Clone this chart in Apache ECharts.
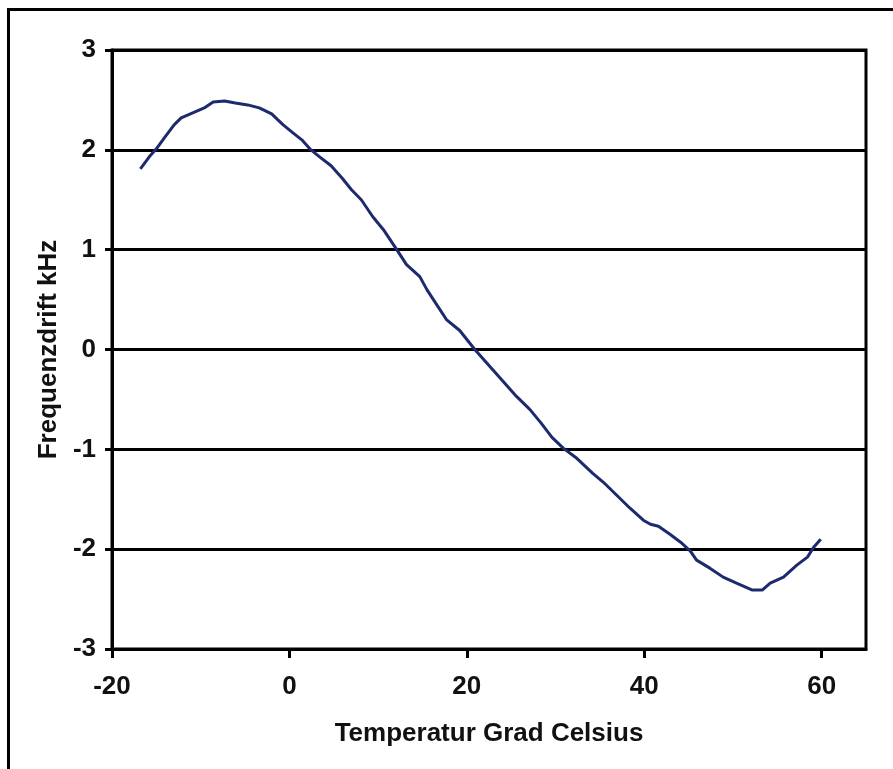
<!DOCTYPE html>
<html>
<head>
<meta charset="utf-8">
<script src="https://cdn.jsdelivr.net/npm/echarts@6/dist/echarts.min.js"></script>
<style>
html,body{margin:0;padding:0;background:#fff;}
#chart{width:893px;height:769px;}
</style>
</head>
<body>
<div id="chart"></div>
<script>
const temperature = [-16.8, -15.8, -15.0, -14.1, -13.0, -12.2, -10.9, -9.6, -8.6, -7.3, -6.1, -4.7, -3.4, -2.0, -1.3, -0.7, 0.4, 1.4, 2.3, 3.4, 4.7, 6.0, 7.0, 8.1, 9.4, 10.6, 12.1, 13.2, 14.7, 15.5, 16.6, 17.7, 19.2, 20.9, 22.6, 24.1, 25.6, 27.1, 28.4, 29.6, 30.9, 32.4, 34.2, 35.4, 36.9, 38.4, 39.9, 40.7, 41.6, 42.9, 44.1, 45.2, 45.9, 47.4, 48.9, 50.4, 52.2, 53.3, 54.2, 55.7, 57.2, 58.4, 59.1, 59.9];
const drift = [1.81, 1.93, 2.01, 2.12, 2.25, 2.32, 2.37, 2.42, 2.48, 2.49, 2.47, 2.45, 2.42, 2.36, 2.30, 2.25, 2.17, 2.10, 2.01, 1.93, 1.84, 1.71, 1.60, 1.50, 1.33, 1.20, 1.00, 0.85, 0.73, 0.60, 0.45, 0.30, 0.19, 0.00, -0.17, -0.32, -0.47, -0.60, -0.74, -0.88, -0.99, -1.09, -1.24, -1.33, -1.46, -1.59, -1.71, -1.75, -1.77, -1.85, -1.93, -2.02, -2.11, -2.19, -2.28, -2.34, -2.41, -2.41, -2.34, -2.28, -2.16, -2.08, -1.98, -1.90];
const xTicks = [-20, 0, 20, 40, 60];
const yTicks = [-3, -2, -1, 0, 1, 2, 3];
const xTitle = 'Temperatur Grad Celsius';
const yTitle = 'Frequenzdrift kHz';

const chart = echarts.init(document.getElementById('chart'), null, {renderer: 'canvas'});
const font = 'Liberation Sans, Arial, sans-serif';
const black = '#000';
chart.setOption({
  animation: false,
  backgroundColor: '#fff',
  graphic: [{
    type: 'rect',
    shape: {x: 8.5, y: 9.5, width: 1000, height: 1000},
    style: {fill: 'none', stroke: black, lineWidth: 3},
    silent: true
  }],
  grid: {
    left: 112, top: 50, width: 754, height: 599,
    show: true, borderColor: black, borderWidth: 3, backgroundColor: 'transparent'
  },
  xAxis: {
    type: 'value', min: -20, max: 65, interval: 20,
    name: xTitle, nameLocation: 'middle', nameGap: 72,
    nameTextStyle: {fontFamily: font, fontSize: 26, fontWeight: 'bold', color: '#111'},
    axisLine: {show: true, onZero: false, lineStyle: {color: black, width: 3}},
    axisTick: {show: true, length: 9, customValues: xTicks, lineStyle: {color: black, width: 3}},
    axisLabel: {customValues: xTicks, margin: 25, fontFamily: font, fontSize: 26, fontWeight: 'bold', color: '#111',
      formatter: v => String(v)},
    splitLine: {show: false}
  },
  yAxis: {
    type: 'value', min: -3, max: 3, interval: 1,
    name: yTitle, nameLocation: 'middle', nameGap: 50,
    nameTextStyle: {fontFamily: font, fontSize: 26, fontWeight: 'bold', color: '#111'},
    axisLine: {show: true, onZero: false, lineStyle: {color: black, width: 3}},
    axisTick: {show: true, length: 7, customValues: yTicks, lineStyle: {color: black, width: 3}},
    axisLabel: {customValues: yTicks, margin: 16, fontFamily: font, fontSize: 26, fontWeight: 'bold', color: '#111'},
    splitLine: {show: true, lineStyle: {color: black, width: 3}}
  },
  series: [{
    type: 'line',
    data: temperature.map((t, i) => [t, drift[i]]),
    showSymbol: false,
    lineStyle: {color: '#1c2a6e', width: 3},
    itemStyle: {color: '#1c2a6e'}
  }]
});
</script>
</body>
</html>
